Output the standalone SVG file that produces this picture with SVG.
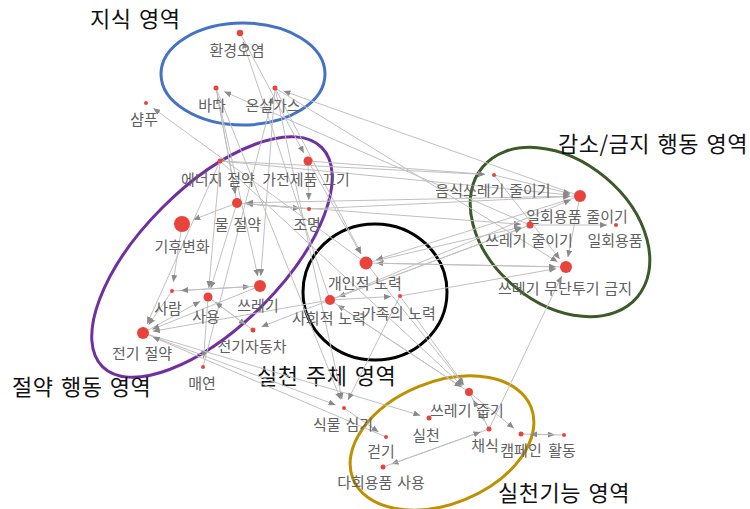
<svg xmlns="http://www.w3.org/2000/svg" width="750" height="509" viewBox="0 0 750 509">
<defs>
<marker id="a" viewBox="0 0 7 6" refX="7" refY="3" markerWidth="7" markerHeight="6" markerUnits="userSpaceOnUse" orient="auto"><path d="M0,0 L7,3 L0,6 z" fill="#8a8a8a"/></marker>
<style>
.e line{stroke:#c0c0c0;stroke-width:1;marker-end:url(#a)}
.n circle{fill:#e8443c}
.n text{font-family:"Noto Sans CJK KR","Noto Sans",sans-serif;font-size:15px;fill:#606060;text-anchor:middle;word-spacing:1.5px}
.r{fill:none;stroke-width:3}
.rl{font-family:"Noto Sans CJK KR","Noto Sans",sans-serif;font-size:22px;fill:#111;letter-spacing:0.5px;word-spacing:2px}
</style>
</defs>
<rect width="750" height="509" fill="#fff"/>
<g id="regions">
<ellipse class="r" cx="243" cy="74" rx="82" ry="51" stroke="#4472c4"/>
<ellipse class="r" cx="212" cy="257" rx="155" ry="70" transform="rotate(-45 212 257)" stroke="#7030a0"/>
<ellipse class="r" cx="375" cy="292" rx="72" ry="68" stroke="#000"/>
<ellipse class="r" cx="560" cy="232" rx="101" ry="71" transform="rotate(40 560 232)" stroke="#3b5a27"/>
<ellipse class="r" cx="442" cy="443" rx="96" ry="61" transform="rotate(-22 442 443)" stroke="#bf9000"/>
<text class="rl" x="90" y="27">지식 영역</text>
<text class="rl" x="558" y="152">감소/금지 행동 영역</text>
<text class="rl" x="12" y="395">절약 행동 영역</text>
<text class="rl" x="257" y="384">실천 주체 영역</text>
<text class="rl" x="498" y="501">실천기능 영역</text>
</g>
<g id="connectors" class="e">
<line x1="366" y1="263" x2="153.3" y2="108.3"/>
<line x1="237" y1="203" x2="217.6" y2="96.9"/>
<line x1="530" y1="225" x2="224.2" y2="91.6"/>
<line x1="203" y1="367" x2="272.8" y2="96.7"/>
<line x1="580" y1="196" x2="283.5" y2="91.0"/>
<line x1="330" y1="300" x2="242.9" y2="41.5"/>
<line x1="216" y1="88" x2="257.8" y2="276.2"/>
<line x1="275" y1="88" x2="260.8" y2="276.0"/>
<line x1="240" y1="33" x2="303.8" y2="153.0"/>
<line x1="275" y1="88" x2="361.2" y2="253.7"/>
<line x1="275" y1="88" x2="557.5" y2="261.8"/>
<line x1="237" y1="203" x2="193.2" y2="219.7"/>
<line x1="182" y1="224" x2="173.3" y2="282.1"/>
<line x1="237" y1="203" x2="210.7" y2="288.4"/>
<line x1="220" y1="161" x2="208.8" y2="288.0"/>
<line x1="172" y1="291" x2="250.0" y2="286.6"/>
<line x1="260" y1="286" x2="181.0" y2="290.5"/>
<line x1="143" y1="333" x2="200.1" y2="301.4"/>
<line x1="208" y1="297" x2="245.7" y2="324.7"/>
<line x1="253" y1="330" x2="215.3" y2="302.3"/>
<line x1="208" y1="297" x2="203.6" y2="358.0"/>
<line x1="172" y1="291" x2="148.7" y2="324.8"/>
<line x1="220" y1="161" x2="147.1" y2="323.9"/>
<line x1="260" y1="286" x2="152.3" y2="329.3"/>
<line x1="330" y1="300" x2="152.8" y2="331.3"/>
<line x1="330" y1="300" x2="261.4" y2="326.7"/>
<line x1="216" y1="88" x2="235.4" y2="194.2"/>
<line x1="237" y1="203" x2="300.0" y2="208.3"/>
<line x1="309" y1="209" x2="246.0" y2="203.7"/>
<line x1="308" y1="161" x2="308.8" y2="200.0"/>
<line x1="580" y1="196" x2="246.0" y2="202.8"/>
<line x1="220" y1="161" x2="570.0" y2="195.0"/>
<line x1="308" y1="161" x2="485.0" y2="174.3"/>
<line x1="237" y1="203" x2="521.0" y2="224.3"/>
<line x1="309" y1="209" x2="570.0" y2="196.5"/>
<line x1="220" y1="161" x2="485.0" y2="174.5"/>
<line x1="308" y1="161" x2="360.8" y2="253.9"/>
<line x1="580" y1="196" x2="376.0" y2="259.9"/>
<line x1="566" y1="267" x2="376.5" y2="263.2"/>
<line x1="530" y1="225" x2="338.4" y2="296.8"/>
<line x1="330" y1="300" x2="391.0" y2="296.5"/>
<line x1="469" y1="392" x2="337.5" y2="305.0"/>
<line x1="366" y1="263" x2="556.0" y2="266.8"/>
<line x1="400" y1="296" x2="556.1" y2="268.7"/>
<line x1="330" y1="300" x2="570.8" y2="199.8"/>
<line x1="366" y1="263" x2="521.2" y2="227.0"/>
<line x1="330" y1="300" x2="521.6" y2="228.2"/>
<line x1="530" y1="225" x2="607.0" y2="225.0"/>
<line x1="580" y1="196" x2="567.9" y2="257.2"/>
<line x1="494" y1="175" x2="570.3" y2="193.6"/>
<line x1="494" y1="175" x2="559.8" y2="259.1"/>
<line x1="489" y1="429" x2="561.7" y2="276.0"/>
<line x1="366" y1="263" x2="463.4" y2="385.0"/>
<line x1="330" y1="300" x2="461.5" y2="387.0"/>
<line x1="400" y1="296" x2="463.8" y2="384.7"/>
<line x1="216" y1="88" x2="340.7" y2="399.6"/>
<line x1="275" y1="88" x2="342.1" y2="399.2"/>
<line x1="143" y1="333" x2="335.6" y2="404.9"/>
<line x1="143" y1="333" x2="420.4" y2="415.4"/>
<line x1="400" y1="296" x2="348.0" y2="400.0"/>
<line x1="344" y1="408" x2="378.6" y2="431.9"/>
<line x1="469" y1="392" x2="484.7" y2="421.1"/>
<line x1="489" y1="429" x2="473.3" y2="399.9"/>
<line x1="469" y1="392" x2="514.0" y2="428.3"/>
<line x1="521" y1="434" x2="555.0" y2="434.8"/>
<line x1="564" y1="435" x2="530.0" y2="434.2"/>
<line x1="489" y1="429" x2="391.5" y2="464.0"/>
<line x1="383" y1="467" x2="480.5" y2="432.0"/>
<line x1="386" y1="437" x2="152.8" y2="336.9"/>
<line x1="220" y1="161" x2="462.4" y2="385.9"/>
</g>
<g id="n-hwangyeong" class="n"><circle cx="240" cy="33" r="3.2"/><text x="237" y="56">환경오염</text></g>
<g id="n-bada" class="n"><circle cx="216" cy="88" r="2.5"/><text x="212" y="111">바다</text></g>
<g id="n-onsil" class="n"><circle cx="275" cy="88" r="2.5"/><text x="273" y="111">온실가스</text></g>
<g id="n-shampoo" class="n"><circle cx="146" cy="103" r="2"/><text x="144" y="125">샴푸</text></g>
<g id="n-energy" class="n"><circle cx="220" cy="161" r="2.5"/><text x="218" y="185">에너지 절약</text></g>
<g id="n-gajeon" class="n"><circle cx="308" cy="161" r="4.5"/><text x="306" y="185">가전제품 끄기</text></g>
<g id="n-mul" class="n"><circle cx="237" cy="203" r="5"/><text x="238" y="230">물 절약</text></g>
<g id="n-gihu" class="n"><circle cx="182" cy="224" r="8"/><text x="182" y="252">기후변화</text></g>
<g id="n-jomyeong" class="n"><circle cx="309" cy="209" r="2"/><text x="307" y="230">조명</text></g>
<g id="n-saram" class="n"><circle cx="172" cy="291" r="2"/><text x="168" y="314">사람</text></g>
<g id="n-sayong" class="n"><circle cx="208" cy="297" r="4.5"/><text x="206" y="322">사용</text></g>
<g id="n-sseuregi" class="n"><circle cx="260" cy="286" r="6"/><text x="258" y="311">쓰레기</text></g>
<g id="n-jeongi" class="n"><circle cx="143" cy="333" r="6"/><text x="142" y="359">전기 절약</text></g>
<g id="n-car" class="n"><circle cx="253" cy="330" r="2.5"/><text x="252" y="352">전기자동차</text></g>
<g id="n-maeyeon" class="n"><circle cx="203" cy="367" r="2"/><text x="202" y="389">매연</text></g>
<g id="n-gaein" class="n"><circle cx="366" cy="263" r="6.5"/><text x="365" y="289">개인적 노력</text></g>
<g id="n-sahoe" class="n"><circle cx="330" cy="300" r="5"/><text x="329" y="324">사회적 노력</text></g>
<g id="n-gajok" class="n"><circle cx="400" cy="296" r="2"/><text x="399" y="319">가족의 노력</text></g>
<g id="n-eumsik" class="n"><circle cx="494" cy="175" r="2"/><text x="493" y="196">음식쓰레기 줄이기</text></g>
<g id="n-ilhoe-jul" class="n"><circle cx="580" cy="196" r="6"/><text x="577" y="222">일회용품 줄이기</text></g>
<g id="n-sseu-jul" class="n"><circle cx="530" cy="225" r="3.5"/><text x="529" y="246">쓰레기 줄이기</text></g>
<g id="n-ilhoe" class="n"><circle cx="616" cy="225" r="2"/><text x="615" y="246">일회용품</text></g>
<g id="n-mudan" class="n"><circle cx="566" cy="267" r="6"/><text x="565" y="294">쓰레기 무단투기 금지</text></g>
<g id="n-jupgi" class="n"><circle cx="469" cy="392" r="4"/><text x="467" y="416">쓰레기 줍기</text></g>
<g id="n-sikmul" class="n"><circle cx="344" cy="408" r="2"/><text x="343" y="430">식물 심기</text></g>
<g id="n-silcheon" class="n"><circle cx="429" cy="418" r="2.5"/><text x="426" y="441">실천</text></g>
<g id="n-geotgi" class="n"><circle cx="386" cy="437" r="2"/><text x="381" y="457">걷기</text></g>
<g id="n-chaesik" class="n"><circle cx="489" cy="429" r="2.5"/><text x="485" y="451">채식</text></g>
<g id="n-campaign" class="n"><circle cx="521" cy="434" r="2.5"/><text x="521" y="456">캠페인</text></g>
<g id="n-hwaldong" class="n"><circle cx="564" cy="435" r="2"/><text x="562" y="456">활동</text></g>
<g id="n-dahoe" class="n"><circle cx="383" cy="467" r="2.5"/><text x="381" y="488">다회용품 사용</text></g>
</svg>
